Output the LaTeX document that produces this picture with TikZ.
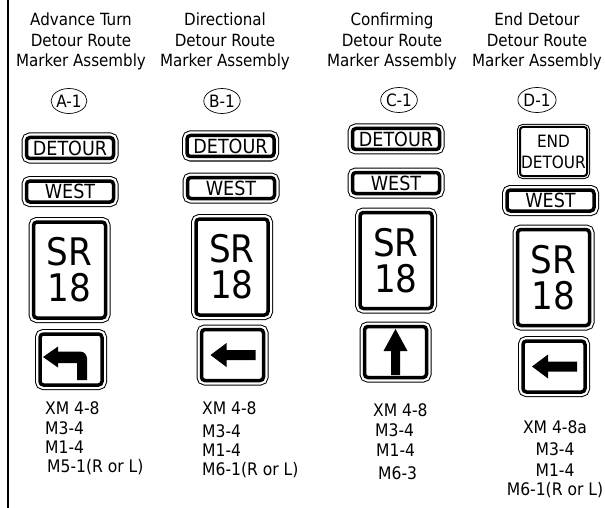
\documentclass[tikz,border=0pt]{standalone}
\usepackage{fontspec}
\setmainfont{DejaVu Sans Condensed}
\usetikzlibrary{shapes.geometric}
\begin{document}
\begin{tikzpicture}[x=1pt, y=-1pt,
		sign/.style={draw=black, fill=white, line width=3.5pt, rounded corners=3.5pt, inner sep=0pt,
			preaction={draw=black, line width=10pt}, preaction={draw=white, line width=8pt}},
		plaque/.style={sign, minimum width=87pt, minimum height=21pt, font=\fontsize{19.5}{19.5}\selectfont},
		shield/.style={sign, minimum width=72pt, minimum height=96pt, align=center, font=\fontsize{38}{36}\selectfont},
		arrowsign/.style={sign, minimum width=62pt, minimum height=51pt},
		endsign/.style={draw=black, fill=white, line width=2pt, rounded corners=3pt, inner sep=0pt,
			preaction={draw=black, line width=6pt}, preaction={draw=white, line width=4pt},
			minimum width=67pt, minimum height=49pt, align=center, font=\fontsize{17}{21}\selectfont},
		title/.style={align=center, font=\fontsize{16.8}{20.5}\selectfont},
		tag/.style={draw, ellipse, line width=0.7pt, inner sep=0pt, minimum width=31pt, minimum height=25pt, font=\fontsize{17}{17}\selectfont},
		code/.style={inner sep=0pt, font=\fontsize{17.3}{17.3}\selectfont}]
		\useasboundingbox (0,0) rectangle (605,508);
		\draw[line width=1.5pt] (8,0) -- (8,508);
		% titles
		\node[title] (tA) at (81,41.5) {Advance Turn\\Detour Route\\Marker Assembly};
		\node[title] (tB) at (225,41.5) {Directional\\Detour Route\\Marker Assembly};
		\node[title] (tC) at (392,41.5) {Confirming\\Detour Route\\Marker Assembly};
		\node[title] (tD) at (537,41.5) {End Detour\\Detour Route\\Marker Assembly};
		\node[tag] (cA) at (69,101) {A-1};
		\node[tag] (cB) at (222,101) {B-1};
		\node[tag] (cC) at (399,100) {C-1};
		\node[tag] (cD) at (537,100) {D-1};
		% assembly A
		\node[plaque] (dA) at (70,148) {DETOUR};
		\node[plaque] (wA) at (70,191.5) {WEST};
		\node[shield] (sA) at (69.5,270) {SR\\18};
		\node[arrowsign] (arrA) at (71,359.5) {};
		\fill[shift={(arrA.center)}] (-28,-2.5) -- (-13,-13) -- (-13,-8) -- (9,-8)
			arc[start angle=-90, end angle=0, radius=7] -- (16,20.5) -- (6,20.5) -- (6,3.5)
			-- (-13,3.5) -- (-13,8) -- cycle;
		% assembly B
		\node[plaque] (dB) at (230.5,146) {DETOUR};
		\node[plaque] (wB) at (231,188) {WEST};
		\node[shield] (sB) at (232,267) {SR\\18};
		\node[arrowsign] (arrB) at (232.5,355) {};
		\fill[shift={(arrB.center)}] (-22,0) -- (-6,-12) -- (-6,-5) -- (23,-5) -- (23,5)
			-- (-6,5) -- (-6,12) -- cycle;
		% assembly C
		\node[plaque] (dC) at (396,139) {DETOUR};
		\node[plaque] (wC) at (396,183) {WEST};
		\node[shield] (sC) at (396,260.5) {SR\\18};
		\node[arrowsign] (arrC) at (395.5,352) {};
		\fill[shift={(arrC.center)}] (0,-23) -- (12,-1) -- (4.5,-1) -- (4.5,23) -- (-4.5,23)
			-- (-4.5,-1) -- (-12,-1) -- cycle;
		% assembly D
		\node[endsign] (dD) at (553.5,151.5) {END\\DETOUR};
		\node[plaque] (wD) at (550.5,200.5) {WEST};
		\node[shield] (sD) at (553.5,277.5) {SR\\18};
		\node[arrowsign] (arrD) at (554,366.5) {};
		\fill[shift={(arrD.center)}] (-22,0) -- (-6,-12) -- (-6,-5) -- (23,-5) -- (23,5)
			-- (-6,5) -- (-6,12) -- cycle;
		% sign numbers
		\foreach \t/\x/\y [count=\i] in {XM 4-8/45/408, M3-4/45/428, M1-4/45/447, M5-1(R or L)/47/467}{
			\node[code, anchor=west] (nA\i) at (\x,\y) {\t};
		}
		\foreach \t/\y [count=\i] in {XM 4-8/408, M3-4/431, M1-4/450, M6-1(R or L)/470}{
			\node[code, anchor=west] (nB\i) at (202,\y) {\t};
		}
		\foreach \t/\x/\y [count=\i] in {XM 4-8/373/410, M3-4/375/430, M1-4/376/450, M6-3/378/473}{
			\node[code, anchor=west] (nC\i) at (\x,\y) {\t};
		}
		\foreach \t/\y [count=\i] in {XM 4-8a/427, M3-4/449, M1-4/470, M6-1(R or L)/490}{
			\node[code] (nD\i) at (555,\y) {\t};
		}
	\end{tikzpicture}
\end{document}
